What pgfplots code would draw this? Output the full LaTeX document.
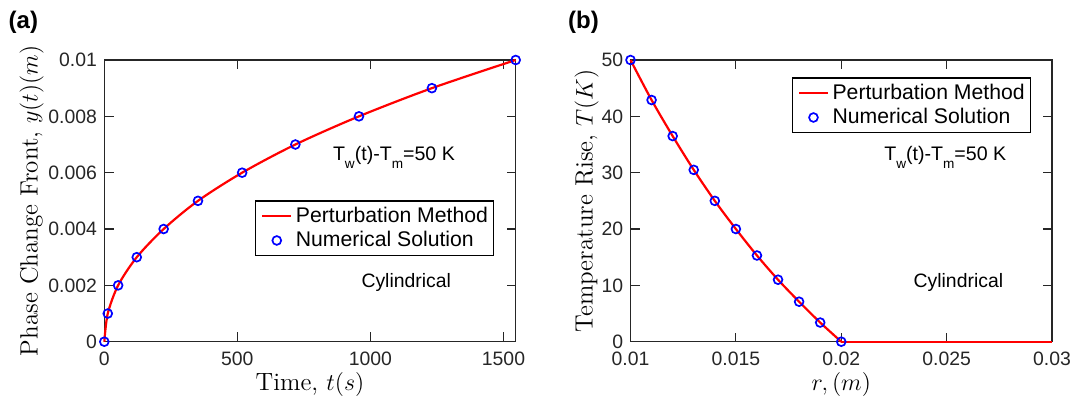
\documentclass[border=0pt]{standalone}
\usepackage{fontspec}
\usepackage{pgfplots}
\pgfplotsset{compat=1.18}
\newfontfamily\arial{Liberation Sans}
\definecolor{axc}{HTML}{262626}
\newcommand{\lstrut}{\rule[-2.4pt]{0pt}{10pt}}
\pgfplotsset{
  mystyle/.style={
    scale only axis, anchor=south west,
    height=140.85pt,
    clip=false,
    axis line style={axc, line width=0.55pt},
    tick style={axc, line width=0.55pt},
    tick align=inside, major tick length=4.6pt,
    ticklabel style={font=\arial\fontsize{9.7}{11}\selectfont, text=axc},
    xticklabel style={inner sep=0pt, yshift=-5pt},
    yticklabel style={inner sep=0pt, xshift=-3.5pt},
    label style={font=\fontsize{12.5}{14}\selectfont},
    xlabel style={at={(axis description cs:0.5,-0.1715)}, anchor=base},
    legend style={font=\arial\fontsize{10.6}{12}\selectfont, anchor=north east, draw=black, line width=0.65pt, inner xsep=2.8pt, inner ysep=3pt, row sep=3pt, column sep=1.8pt, nodes={inner sep=0pt}},
    legend cell align=left,
    legend image code/.code={\draw[mark repeat=2,mark phase=2,##1] plot coordinates {(0pt,0pt) (7.2pt,0pt) (14.4pt,0pt)};},
  },
  redline/.style={color=red, line width=1.1pt, no markers},
  bluecirc/.style={only marks, mark=o, mark size=2.2pt, mark options={draw=blue, line width=0.85pt}},
}
\begin{document}
\begin{tikzpicture}[x=1pt,y=1pt]
\useasboundingbox (0,0) rectangle (537,200.5);
% ---------- (a) ----------
\begin{axis}[mystyle,
  at={(52.15pt,29.65pt)}, width=205.7pt,
  xmin=0, xmax=1546, ymin=0, ymax=0.01,
  xtick={0,500,1000,1500}, xticklabels={0,500,1000,1500},
  ytick={0,0.002,0.004,0.006,0.008,0.01},
  yticklabels={0,0.002,0.004,0.006,0.008,0.01},
  scaled y ticks=false,
  xlabel={Time, $t(s)$},
  ylabel={Phase Change Front, $y(t)(m)$},
  ylabel style={at={(axis description cs:-0.1619,0.5)}, anchor=base},
  legend style={at={(axis description cs:0.9478,0.502)}},
]
\addplot[redline, smooth] coordinates {
(0,0) (13,0.001) (52,0.002) (122,0.003) (223,0.004) (352,0.005)
(518,0.006) (718,0.007) (957,0.008) (1231,0.009) (1546,0.01)};
\addlegendentry{Perturbation Method\lstrut}
\addplot[bluecirc] coordinates {
(0,0) (13,0.001) (52,0.002) (122,0.003) (223,0.004) (352,0.005)
(518,0.006) (718,0.007) (957,0.008) (1231,0.009) (1546,0.01)};
\addlegendentry{Numerical Solution\lstrut}
\node[anchor=base west, inner sep=0pt, font=\arial\fontsize{9.8}{11}\selectfont] at (axis cs:858,0.006425)
  {T\raisebox{-3.8pt}{\fontsize{6.8}{8}\selectfont w}(t)-T\raisebox{-3.8pt}{\fontsize{6.8}{8}\selectfont m}=50 K};
\node[anchor=base west, inner sep=0pt, font=\arial\fontsize{9.7}{11}\selectfont] at (axis cs:965,0.001931) {Cylindrical};
\end{axis}
% ---------- (b) ----------
\begin{axis}[mystyle,
  at={(315.25pt,29.65pt)}, width=210.75pt,
  xmin=0.01, xmax=0.03, ymin=0, ymax=50,
  xtick={0.01,0.015,0.02,0.025,0.03}, xticklabels={0.01,0.015,0.02,0.025,0.03},
  ytick={0,10,20,30,40,50}, yticklabels={0,10,20,30,40,50},
  scaled x ticks=false,
  xlabel={$r, (m)$},
  ylabel={Temperature Rise, $T(K)$},
  ylabel style={at={(axis description cs:-0.09,0.5)}, anchor=base},
  legend style={at={(axis description cs:0.950,0.9386)}},
]
\addplot[redline, smooth] coordinates {
(0.010,50) (0.011,42.9) (0.012,36.5) (0.013,30.5) (0.014,25) (0.015,20)
(0.016,15.3) (0.017,11) (0.018,7.1) (0.019,3.4) (0.020,0)};
\addlegendentry{Perturbation Method\lstrut}
\addplot[bluecirc] coordinates {
(0.010,50) (0.011,42.9) (0.012,36.5) (0.013,30.5) (0.014,25) (0.015,20)
(0.016,15.3) (0.017,11) (0.018,7.1) (0.019,3.4) (0.020,0)};
\addlegendentry{Numerical Solution\lstrut}
\addplot[redline, forget plot] coordinates {(0.020,0) (0.030,0)};
\node[anchor=base west, inner sep=0pt, font=\arial\fontsize{9.8}{11}\selectfont] at (axis cs:0.022025,32.13)
  {T\raisebox{-3.8pt}{\fontsize{6.8}{8}\selectfont w}(t)-T\raisebox{-3.8pt}{\fontsize{6.8}{8}\selectfont m}=50 K};
\node[anchor=base west, inner sep=0pt, font=\arial\fontsize{9.7}{11}\selectfont] at (axis cs:0.023416,9.655) {Cylindrical};
\end{axis}
\node[anchor=base west, inner sep=0pt, font=\arial\bfseries\fontsize{12}{14}\selectfont] at (4.15,186.3) {(a)};
\node[anchor=base west, inner sep=0pt, font=\arial\bfseries\fontsize{12}{14}\selectfont] at (283.9,186.3) {(b)};
\end{tikzpicture}
\end{document}
